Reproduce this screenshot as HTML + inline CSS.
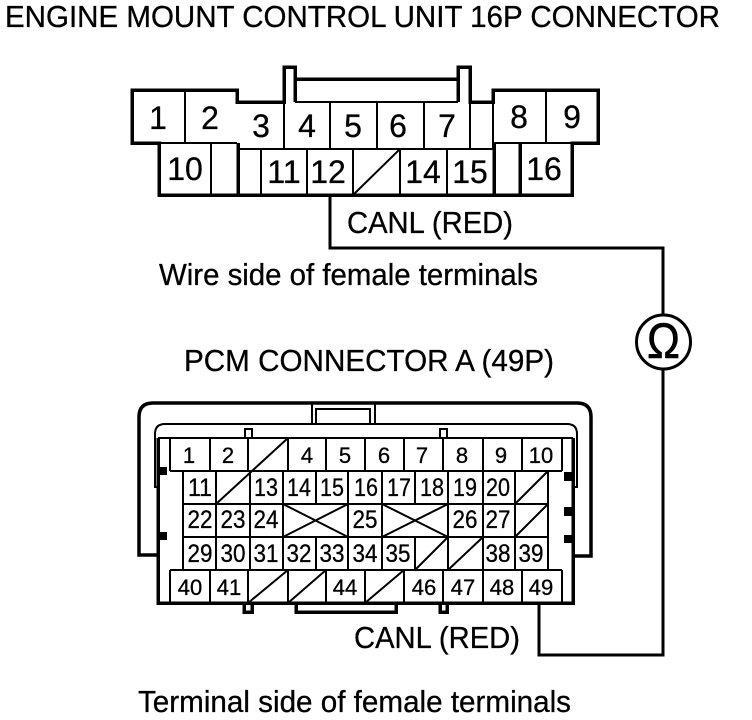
<!DOCTYPE html>
<html><head><meta charset="utf-8"><style>
html,body{margin:0;padding:0;background:#fff}
svg{display:block}
text{font-family:"Liberation Sans",sans-serif;fill:#000;stroke:#000;stroke-width:.3}
.t{font-size:30.5px}
.n{font-size:32px;text-anchor:middle}
.s{font-size:22px;text-anchor:middle}
.m{font-size:25px;text-anchor:middle}
.k{fill:none;stroke:#000;stroke-width:3.5;shape-rendering:crispEdges}
.h{fill:none;stroke:#000;stroke-width:2;shape-rendering:crispEdges}
.r{fill:none;stroke:#000;stroke-width:3.5}
.q{fill:none;stroke:#000;stroke-width:2}
.d{stroke:#000;stroke-width:2;fill:none}
</style></head><body>
<svg width="752" height="720" viewBox="0 0 752 720" xmlns="http://www.w3.org/2000/svg">
<text class="t" x="5" y="27" textLength="715" lengthAdjust="spacingAndGlyphs">ENGINE MOUNT CONTROL UNIT 16P CONNECTOR</text>

<!-- top connector thick -->
<path class="k" d="M159 143H132V90H237V102H284V67H295V79H458V67H470V102H493V90H598V143H572V195H159Z"/>
<path class="k" d="M295 102V79M458 102V79M238 143V195M494 143V195M520 143V195"/>
<path class="h" d="M295 102H458M159 143H237M493 143H572M237 149H493M185 90V143M546 90V143M211 143V195M261 149V195M307 149V195M353 149V195M400 149V195M447 149V195M284 102V149M330 102V149M377 102V149M424 102V149M470 102V149M493 102V149"/>
<path class="d" d="M353 195L400 149"/>
<text class="n" x="158" y="129">1</text><text class="n" x="210" y="129">2</text>
<text class="n" x="261" y="137">3</text><text class="n" x="307" y="137">4</text><text class="n" x="353" y="137">5</text><text class="n" x="398" y="137">6</text><text class="n" x="447" y="137">7</text>
<text class="n" x="519" y="128">8</text><text class="n" x="572" y="128">9</text>
<text class="n" x="185" y="180">10</text><text class="n" x="284" y="183">11</text><text class="n" x="328" y="183">12</text><text class="n" x="423" y="183">14</text><text class="n" x="470" y="183">15</text><text class="n" x="544" y="180">16</text>

<!-- wire -->
<path class="k" d="M330 195V248H663V314M663 370V655H539V603" style="stroke-width:3"/>
<circle cx="663.5" cy="342" r="27" fill="none" stroke="#000" stroke-width="3"/>
<text x="647" y="358" font-size="50" textLength="33" lengthAdjust="spacingAndGlyphs" style="stroke-width:.6">Ω</text>

<text class="t" x="347" y="233" textLength="166" lengthAdjust="spacingAndGlyphs">CANL (RED)</text>
<text class="t" x="159" y="285" textLength="379" lengthAdjust="spacingAndGlyphs">Wire side of female terminals</text>
<text class="t" x="184" y="371" textLength="370" lengthAdjust="spacingAndGlyphs">PCM CONNECTOR A (49P)</text>
<text class="t" x="354" y="648" textLength="166" lengthAdjust="spacingAndGlyphs">CANL (RED)</text>
<text class="t" x="138" y="712" textLength="433" lengthAdjust="spacingAndGlyphs">Terminal side of female terminals</text>

<!-- bottom connector shell -->
<path class="r" d="M158 555H139V417Q139 403 153 403H577Q591 403 591 417V556H573"/>
<path class="q" d="M158 487H155V434Q155 424 165 424H567Q577 424 577 434V487H573"/>
<path class="h" d="M312 403V424M375 403V424M316 424V409H370V424"/>
<path class="h" d="M245 438V429H252V438M440 438V429H447V438"/>
<path class="k" d="M158 438V603H573V438"/>
<path class="k" d="M296 604V612H396V604M244 604V612H252V604M440 604V612H447V604"/>
<path class="h" d="M158 438H573"/>
<rect x="158" y="467" width="9" height="8"/><rect x="158" y="532" width="9" height="8"/>
<rect x="564" y="472" width="9" height="9"/><rect x="564" y="507" width="9" height="9"/><rect x="564" y="535" width="9" height="8"/>

<!-- grid -->
<path class="h" d="M170 471H562M183 504H548M183 537H548M170 570H562"/>
<path class="h" d="M170 438V471M210 438V471M248 438V471M288 438V471M326 438V471M365 438V471M404 438V471M443 438V471M483 438V471M522 438V471M562 438V471"/>
<path class="h" d="M170 570V603M210 570V603M248 570V603M288 570V603M326 570V603M365 570V603M404 570V603M443 570V603M483 570V603M522 570V603M562 570V603"/>
<path class="h" d="M183 471V570M216 471V570M250 471V570M283 471V570M316 471V504M348 471V570M382 471V570M415 471V504M448 471V570M483 471V570M515 471V570M548 471V570M316 537V570M415 537V570"/>
<path class="d" d="M216 504L288 438M283 504L348 537M283 537L348 504M382 504L448 537M382 537L448 504M515 504L548 471M515 537L548 504M415 570L448 537M448 570L483 537M248 603L288 570M288 603L326 570M365 603L404 570"/>

<text class="s" x="189" y="463">1</text><text class="s" x="228" y="463">2</text><text class="s" x="307" y="463">4</text><text class="s" x="345" y="463">5</text><text class="s" x="384" y="463">6</text><text class="s" x="422" y="463">7</text><text class="s" x="462" y="463">8</text><text class="s" x="501" y="463">9</text><text class="s" x="541" y="463">10</text>

<text class="m" x="200" y="496" textLength="24" lengthAdjust="spacingAndGlyphs">11</text>
<text class="m" x="266" y="496" textLength="24" lengthAdjust="spacingAndGlyphs">13</text>
<text class="m" x="299" y="496" textLength="24" lengthAdjust="spacingAndGlyphs">14</text>
<text class="m" x="332" y="496" textLength="24" lengthAdjust="spacingAndGlyphs">15</text>
<text class="m" x="366" y="496" textLength="24" lengthAdjust="spacingAndGlyphs">16</text>
<text class="m" x="399" y="496" textLength="24" lengthAdjust="spacingAndGlyphs">17</text>
<text class="m" x="432" y="496" textLength="24" lengthAdjust="spacingAndGlyphs">18</text>
<text class="m" x="465" y="496" textLength="24" lengthAdjust="spacingAndGlyphs">19</text>
<text class="m" x="498" y="496" textLength="24" lengthAdjust="spacingAndGlyphs">20</text>

<text class="m" x="200" y="528" textLength="25" lengthAdjust="spacingAndGlyphs">22</text>
<text class="m" x="233" y="528" textLength="25" lengthAdjust="spacingAndGlyphs">23</text>
<text class="m" x="266" y="528" textLength="25" lengthAdjust="spacingAndGlyphs">24</text>
<text class="m" x="365" y="528" textLength="25" lengthAdjust="spacingAndGlyphs">25</text>
<text class="m" x="465" y="528" textLength="25" lengthAdjust="spacingAndGlyphs">26</text>
<text class="m" x="498" y="528" textLength="25" lengthAdjust="spacingAndGlyphs">27</text>

<text class="m" x="200" y="562" textLength="25" lengthAdjust="spacingAndGlyphs">29</text>
<text class="m" x="233" y="562" textLength="25" lengthAdjust="spacingAndGlyphs">30</text>
<text class="m" x="266" y="562" textLength="25" lengthAdjust="spacingAndGlyphs">31</text>
<text class="m" x="299" y="562" textLength="25" lengthAdjust="spacingAndGlyphs">32</text>
<text class="m" x="332" y="562" textLength="25" lengthAdjust="spacingAndGlyphs">33</text>
<text class="m" x="365" y="562" textLength="25" lengthAdjust="spacingAndGlyphs">34</text>
<text class="m" x="398" y="562" textLength="25" lengthAdjust="spacingAndGlyphs">35</text>
<text class="m" x="498" y="562" textLength="25" lengthAdjust="spacingAndGlyphs">38</text>
<text class="m" x="531" y="562" textLength="25" lengthAdjust="spacingAndGlyphs">39</text>

<text class="s" x="190" y="595">40</text><text class="s" x="229" y="595">41</text><text class="s" x="345" y="595">44</text><text class="s" x="424" y="595">46</text><text class="s" x="463" y="595">47</text><text class="s" x="502" y="595">48</text><text class="s" x="541" y="595">49</text>
</svg>
</body></html>
